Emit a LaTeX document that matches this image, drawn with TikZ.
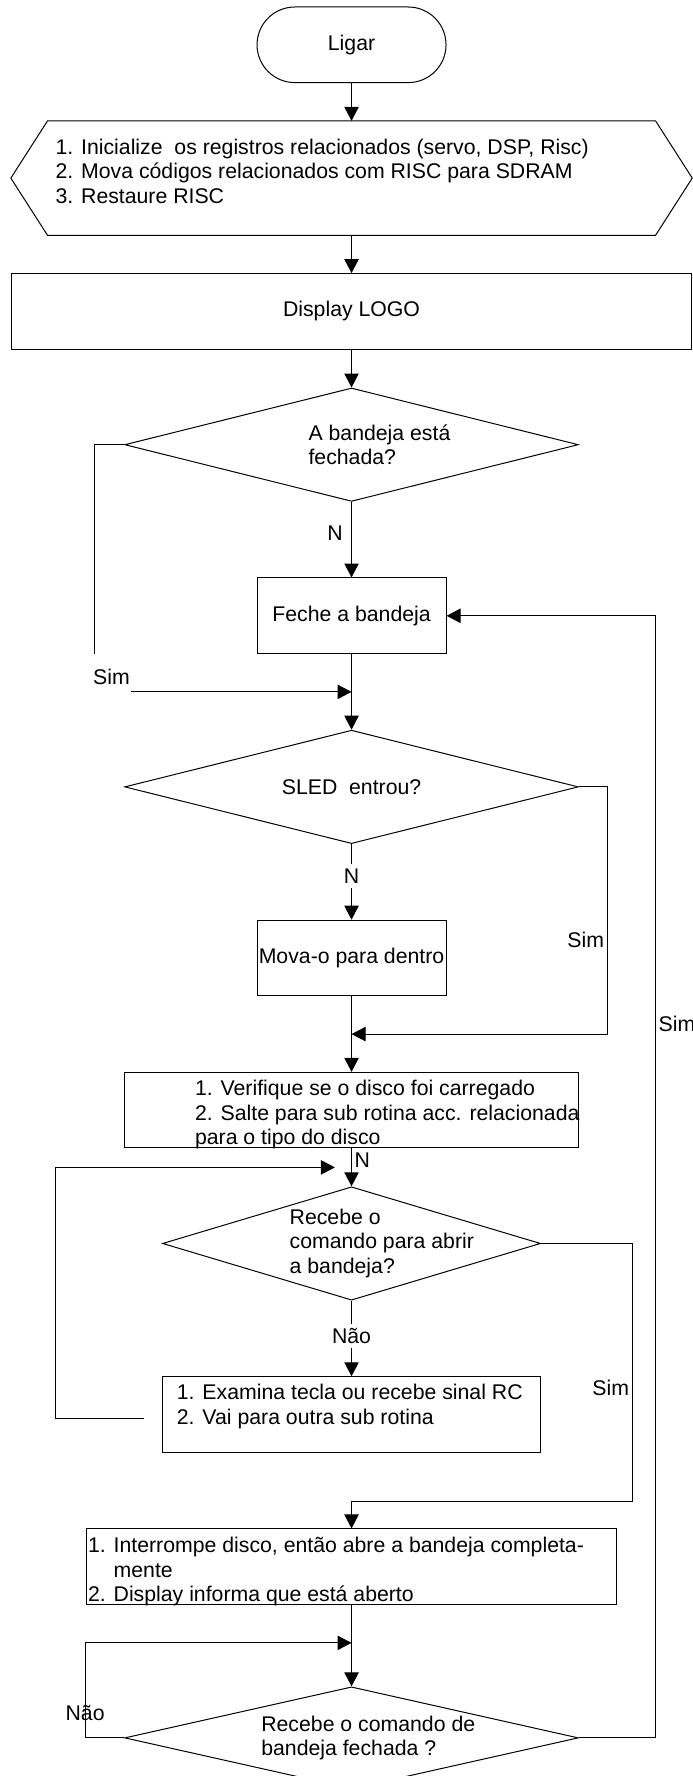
\documentclass[tikz,border=0pt]{standalone}
\usepackage{fontspec}
\setmainfont{Liberation Sans}
\usetikzlibrary{positioning,shapes.geometric,arrows.meta}

\begin{document}
\begin{tikzpicture}[
    font=\fontsize{16pt}{18.4pt}\selectfont,
    line width=0.75pt,
    term/.style={rectangle,draw,rounded corners=1cm,minimum width=5cm,minimum height=2cm,inner sep=0pt},
    box/.style={rectangle,draw,minimum width=5cm,minimum height=2cm,inner sep=0pt},
    decision/.style={diamond,draw,aspect=4,minimum width=12cm,minimum height=3cm,inner sep=0pt},
    txt/.style={anchor=west,align=left,inner sep=0pt},
    lbl/.style={inner sep=2pt},
    arrow/.style={-{Triangle[length=0.37cm,width=0.38cm]}}
]
\useasboundingbox (0,0) rectangle (18.333,-46.984);

% Start
\node[term] (ligar) at (9.3,-1.185) {Ligar};

% Initialization
\node[box,draw=none,minimum width=16.06cm,minimum height=3cm,below=1cm of ligar] (init) {};
\draw ([xshift=-0.97cm]init.west) -- (init.north west) -- (init.north east)
      -- ([xshift=0.97cm]init.east) -- (init.south east) -- (init.south west) -- cycle;
\node[txt] (initxt) at ([xshift=0.2cm,yshift=0.18cm]init.west) {
    1. Inicialize\ \ os registros relacionados (servo, DSP, Risc)\\
    2. Mova códigos relacionados com RISC para SDRAM\\
    3. Restaure RISC
};

% Display LOGO
\node[box,minimum width=18cm,below=1cm of init] (logo) {Display LOGO};

% Tray closed?
\node[decision,below=1cm of logo] (d1) {};
\node[txt] (d1txt) at ([xshift=-1.15cm]d1.center) {A bandeja está\\fechada?};

% Close tray
\node[box,below=2cm of d1] (feche) {Feche a bandeja};

% SLED in?
\node[decision,below=2cm of feche] (d2) {SLED\ \ entrou?};

% Move in
\node[box,below=2cm of d2] (mova) {Mova-o para dentro};

% Check disc
\node[box,minimum width=12cm,below=2cm of mova] (verif) {};
\node[txt] (veriftxt) at ([xshift=1.86cm,yshift=-0.12cm]verif.west) {
    1. Verifique se o disco foi carregado\\
    2. Salte para sub rotina acc. relacionada\\
    para o tipo do disco
};

% Open command?
\node[decision,minimum width=10cm,below=1cm of verif] (d3) {};
\node[txt] (d3txt) at ([xshift=-1.65cm]d3.center) {Recebe o\\comando para abrir\\a bandeja?};

% Keys / RC
\node[box,minimum width=10cm,below=2cm of d3] (exam) {};
\node[txt] (examtxt) at ([xshift=0.38cm,yshift=0.21cm]exam.west) {
    1. Examina tecla ou recebe sinal RC\\
    2. Vai para outra sub rotina
};

% Open tray
\node[box,minimum width=14cm,below=2cm of exam] (abre) {};
\node[txt] (abretxt) at ([xshift=0.03cm,yshift=-0.13cm]abre.west) {
    1. Interrompe disco, então abre a bandeja completa-\\
    \phantom{1. }mente\\
    2. Display informa que está aberto
};

% Close command?
\node[decision,minimum height=2.7cm,below=2.15cm of abre] (d4) {};
\node[txt] (d4txt) at ([xshift=-2.4cm]d4.center) {Recebe o comando de\\bandeja fechada ?};

% Junctions on the main line
\coordinate[below=1cm of feche] (j1);
\coordinate[below=1cm of mova] (j2);
\coordinate[below=0.5cm of verif] (j3);
\coordinate[below=1cm of abre] (j5);

% Main flow
\draw[arrow] (ligar.south) -- (init.north);
\draw[arrow] (init.south) -- (logo.north);
\draw[arrow] (logo.south) -- (d1.north);
\draw[arrow] (d1.south) -- node[pos=0.42,left=0.1cm] (n1) {N} (feche.north);
\draw[arrow] (feche.south) -- (d2.north);
\draw[arrow] (d2.south) -- node[pos=0.42,fill=white] (n2) {N} (mova.north);
\draw[arrow] (mova.south) -- (verif.north);
\draw[arrow] (verif.south) -- node[pos=0.32,right,lbl] (n3) {N} (d3.north);
\draw[arrow] (d3.south) -- node[pos=0.47,fill=white] (nao1) {Não} (exam.north);
\draw[arrow] (abre.south) -- (d4.north);

% Branches
\draw[arrow] (d1.west) -- ++(-0.78,0) |- (j1);
\node[fill=white,inner xsep=0.02cm,inner ysep=0.38cm] (sim1) at (2.95,-17.9) {Sim};
\draw[arrow] (d2.east) -- ++(0.75,0) |- node[pos=0.31,left,lbl] (sim2) {Sim} (j2);
\draw[arrow] (d3.east) -- ++(2.41,0) |- node[pos=0.28,left,lbl] (sim3) {Sim}
      ([yshift=0.72cm]abre.north) -- (abre.north);
\draw[arrow] ([xshift=-0.49cm,yshift=-0.11cm]exam.west) -- ++(-2.34,0) |- ([xshift=-0.44cm]j3);
\draw[arrow] (d4.east) -- ++(2.03,0) |- node[pos=0.318,right,lbl] (sim4) {Sim} (feche.east);
\draw[arrow] (d4.west) -- ++(-1.035,0) |- node[pos=0.13] (nao2) {Não} (j5);

\end{tikzpicture}
\end{document}
